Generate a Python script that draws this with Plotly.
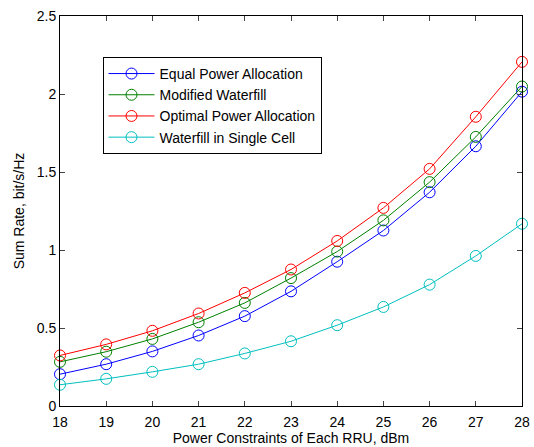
import plotly.graph_objects as go

power_dbm = [18, 19, 20, 21, 22, 23, 24, 25, 26, 27, 28]
equal_power = [0.204, 0.268, 0.350, 0.452, 0.576, 0.735, 0.925, 1.125, 1.370, 1.665, 2.015]
modified_waterfill = [0.283, 0.348, 0.430, 0.537, 0.661, 0.820, 0.990, 1.190, 1.435, 1.725, 2.048]
optimal_power = [0.324, 0.395, 0.482, 0.593, 0.725, 0.875, 1.058, 1.270, 1.520, 1.854, 2.206]
waterfill_single = [0.136, 0.174, 0.219, 0.268, 0.337, 0.415, 0.518, 0.635, 0.778, 0.962, 1.168]

series = [
    ("Equal Power Allocation", equal_power, "rgb(0,0,255)"),
    ("Modified Waterfill", modified_waterfill, "rgb(0,128,0)"),
    ("Optimal Power Allocation", optimal_power, "rgb(255,0,0)"),
    ("Waterfill in Single Cell", waterfill_single, "rgb(0,191,191)"),
]

font_family = "Liberation Sans, Arial, sans-serif"

fig = go.Figure()
for name, vals, color in series:
    fig.add_trace(go.Scatter(
        x=power_dbm, y=vals, name=name, mode="lines+markers",
        line=dict(color=color, width=1),
        marker=dict(symbol="circle-open", size=11, color=color, line=dict(width=1, color=color)),
        cliponaxis=False,
    ))

fig.update_layout(
    width=534, height=447,
    margin=dict(l=60, r=4, t=16, b=41),
    paper_bgcolor="white", plot_bgcolor="white",
    font=dict(family=font_family, size=14, color="black"),
    showlegend=True,
    legend=dict(
        x=0.092, y=0.895, xanchor="left", yanchor="top",
        bgcolor="white", bordercolor="black", borderwidth=1,
        font=dict(size=14, family=font_family),
        tracegroupgap=0, itemwidth=46,
    ),
    xaxis=dict(
        range=[18, 28], tickvals=power_dbm, ticks="inside", ticklen=5,
        showline=True, linecolor="black", linewidth=1, mirror="allticks",
        showgrid=False, zeroline=False, ticklabeloverflow="allow",
        ticklabelstandoff=3,
        title=dict(text="Power Constraints of Each RRU, dBm", standoff=2, font=dict(size=14)),
        tickfont=dict(size=14),
    ),
    yaxis=dict(
        range=[0, 2.5], tickvals=[0, 0.5, 1, 1.5, 2, 2.5], ticktext=["0", "0.5", "1", "1.5", "2", "2.5"],
        ticks="inside", ticklen=5,
        showline=True, linecolor="black", linewidth=1, mirror="allticks",
        showgrid=False, zeroline=False,
        title=dict(text="Sum Rate, bit/s/Hz", standoff=8, font=dict(size=14)),
        tickfont=dict(size=14),
    ),
)

fig.write_html("out.html")
